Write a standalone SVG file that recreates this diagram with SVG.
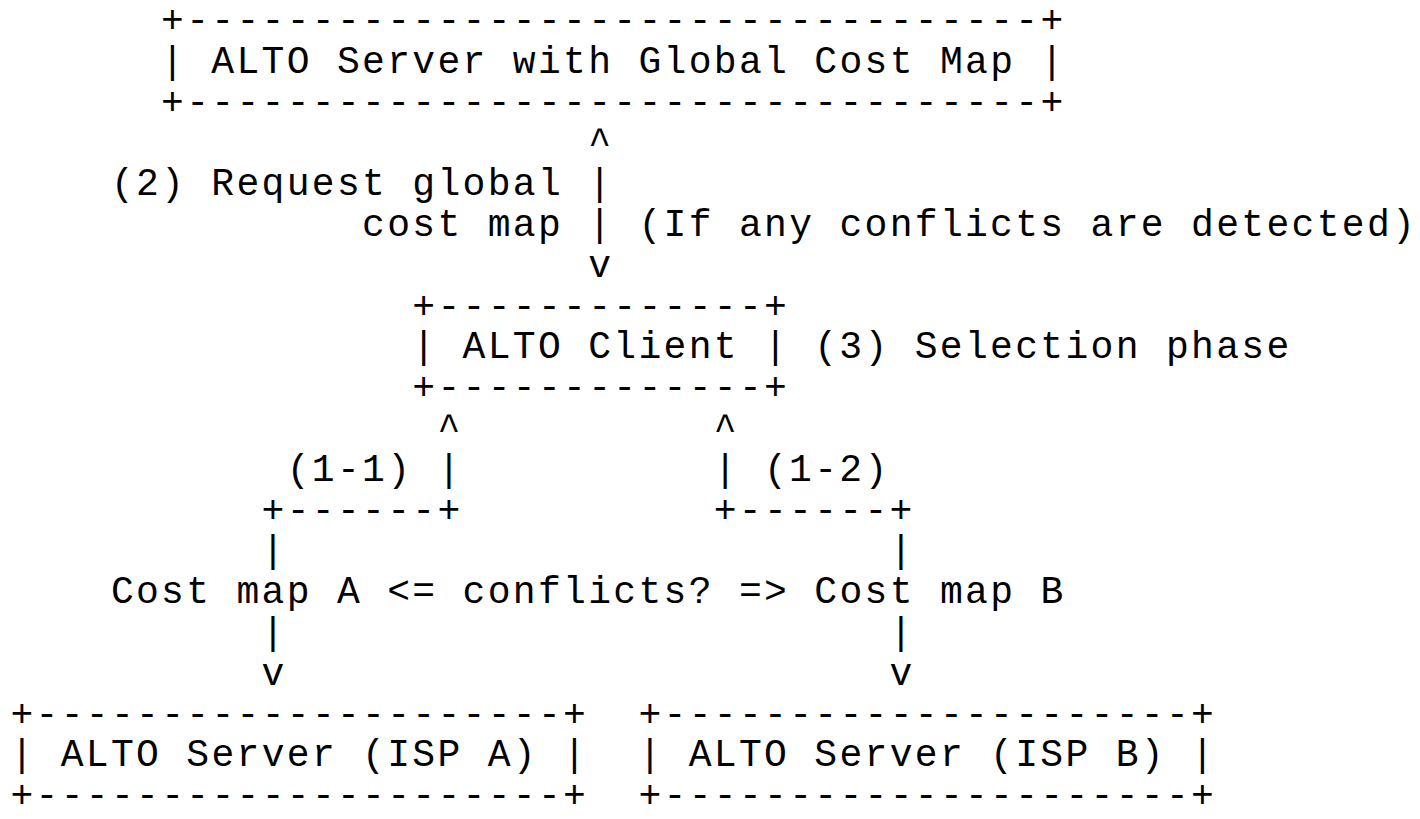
<svg xmlns="http://www.w3.org/2000/svg" width="1420" height="819" viewBox="0 0 1420 819" xml:space="preserve">
<style>
  text { font-family: "Liberation Mono", "DejaVu Sans Mono", monospace; font-size: 38px; letter-spacing: 2.32px; fill: #000; white-space: pre; }
</style>
<rect x="0" y="0" width="1420" height="819" fill="#fff"/>
<g id="node-global-server">
  <text x="161.12" y="32">+----------------------------------+</text>
  <text x="161.12" y="72.8">| ALTO Server with Global Cost Map |</text>
  <text x="161.12" y="113.6">+----------------------------------+</text>
</g>
<g id="node-alto-client">
  <text x="412.32" y="317.6">+-------------+</text>
  <text x="412.32" y="358.4">| ALTO Client |</text>
  <text x="412.32" y="399.2">+-------------+</text>
</g>
<g id="node-server-a">
  <text x="10.4" y="725.6">+---------------------+</text>
  <text x="10.4" y="766.4">| ALTO Server (ISP A) |</text>
  <text x="10.4" y="807.2">+---------------------+</text>
</g>
<g id="node-server-b">
  <text x="638.4" y="725.6">+---------------------+</text>
  <text x="638.4" y="766.4">| ALTO Server (ISP B) |</text>
  <text x="638.4" y="807.2">+---------------------+</text>
</g>
<g id="connectors">
  <text x="588.16" y="154.4">^</text>
  <text x="588.16" y="195.2">|</text>
  <text x="588.16" y="236">|</text>
  <text x="588.16" y="276.8">v</text>
  <text x="437.44" y="440">^</text>
  <text x="713.76" y="440">^</text>
  <text x="437.44" y="480.8">|</text>
  <text x="713.76" y="480.8">|</text>
  <text x="261.6" y="521.6">+------+</text>
  <text x="713.76" y="521.6">+------+</text>
  <text x="261.6" y="562.4">|</text>
  <text x="889.6" y="562.4">|</text>
  <text x="261.6" y="644">|</text>
  <text x="889.6" y="644">|</text>
  <text x="261.6" y="684.8">v</text>
  <text x="889.6" y="684.8">v</text>
</g>
<g id="labels">
  <text x="110.88" y="195.2">(2) Request global</text>
  <text x="362.08" y="236">cost map</text>
  <text x="638.4" y="236">(If any conflicts are detected)</text>
  <text x="814.24" y="358.4">(3) Selection phase</text>
  <text x="286.72" y="480.8">(1-1)</text>
  <text x="764" y="480.8">(1-2)</text>
  <text x="110.88" y="603.2">Cost map A &lt;= conflicts? =&gt; Cost map B</text>
</g>
</svg>
